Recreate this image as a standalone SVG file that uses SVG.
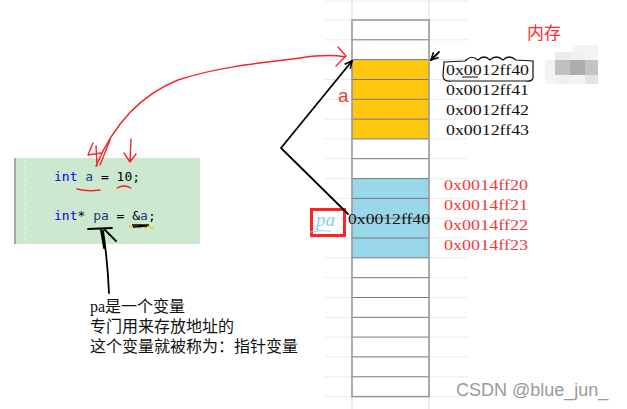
<svg xmlns="http://www.w3.org/2000/svg" width="627" height="409" viewBox="0 0 627 409">
<style>
.grid{stroke:#ececec;stroke-width:1;fill:none}
.cell{stroke:#777;stroke-width:1}
.addr{font-family:"Liberation Serif","DejaVu Serif",serif;font-size:15px}
.blk{fill:#111}
.red{fill:#f03a3a}
.code{font-family:"DejaVu Sans Mono","Liberation Mono",monospace;font-size:13px}
.kw{fill:#0000ff}
.id{fill:#1f377f}
.pen-red{stroke:#f02828;stroke-width:1.4;fill:none;stroke-linecap:round;stroke-linejoin:round}
.pen-blk{stroke:#000;stroke-width:1.8;fill:none;stroke-linecap:round;stroke-linejoin:round}
.note{font-family:"Liberation Serif","Noto Sans CJK SC",serif;font-size:16px;fill:#111}
</style>
<defs>
<marker id="ah" viewBox="0 0 10 10" refX="9" refY="5" markerWidth="5" markerHeight="5" orient="auto-start-reverse">
<path d="M1,1 L9,5 L1,9" fill="none" stroke="#000" stroke-width="1.8"/>
</marker>
</defs>
<rect width="627" height="409" fill="#fff"/>

<!-- faint spreadsheet grid -->
<g id="sheet-grid" class="grid">
<path d="M325,1H468M325,20H468M325,39.8H468M325,59.6H468M325,79.5H468M325,99.3H468M325,119.1H468M325,138.9H468M325,158.7H468M325,178.6H468M325,198.4H468M325,218.2H468M325,238H468M325,257.8H468M325,277.7H468M325,297.5H468M325,317.3H468M325,337.1H468M325,356.9H468M325,376.8H468M325,396.6H468"/>
<path d="M352,0V409M429,0V409" stroke="#dcdcdc"/>
</g>

<!-- memory column -->
<g id="memory">
<rect x="352" y="20" width="77" height="376.6" fill="#fff"/>
<rect x="352" y="59.6" width="77" height="79.3" fill="#fec80f"/>
<rect x="352" y="178.6" width="77" height="79.2" fill="#99d8ea"/>
<path class="cell" d="M352,39.8H429M352,59.6H429M352,79.5H429M352,99.3H429M352,119.1H429M352,138.9H429M352,158.7H429M352,178.6H429M352,198.4H429M352,218.2H429M352,238H429M352,257.8H429M352,277.7H429M352,297.5H429M352,317.3H429M352,337.1H429M352,356.9H429M352,376.8H429"/>
<rect x="352" y="20" width="77" height="376.6" fill="none" stroke="#999" stroke-width="1.6"/>
</g>

<g id="title">
<text x="527" y="39" font-family="Noto Sans CJK SC,sans-serif" font-size="17" fill="#ff2a2a">内存</text>
</g>

<g id="mosaic">
<rect x="572" y="45" width="26" height="8" fill="#f4f4f4"/>
<rect x="555" y="52" width="15" height="8" fill="#ececec"/>
<rect x="570" y="52" width="15" height="8" fill="#f0f0f0"/>
<rect x="585" y="52" width="13" height="8" fill="#f4f4f4"/>
<rect x="545" y="60" width="10" height="15" fill="#f2f2f2"/>
<rect x="555" y="60" width="15" height="15" fill="#c0c0c0"/>
<rect x="570" y="60" width="15" height="15" fill="#adadad"/>
<rect x="585" y="60" width="13" height="15" fill="#c4c4c4"/>
<rect x="545" y="75" width="10" height="9" fill="#f4f4f4"/>
<rect x="555" y="75" width="15" height="9" fill="#f0f0f0"/>
<rect x="570" y="75" width="15" height="9" fill="#f4f4f4"/>
<rect x="585" y="75" width="13" height="9" fill="#e4e4e4"/>
</g>

<!-- address labels of a -->
<g id="addr-a" class="addr blk">
<text x="446" y="75" textLength="83" lengthAdjust="spacingAndGlyphs">0x0012ff40</text>
<text x="446" y="95" textLength="83" lengthAdjust="spacingAndGlyphs">0x0012ff41</text>
<text x="446" y="115" textLength="83" lengthAdjust="spacingAndGlyphs">0x0012ff42</text>
<text x="446" y="135" textLength="83" lengthAdjust="spacingAndGlyphs">0x0012ff43</text>
</g>

<!-- address labels of pa -->
<g id="addr-pa" class="addr red">
<text x="444" y="190" textLength="84" lengthAdjust="spacingAndGlyphs">0x0014ff20</text>
<text x="444" y="210" textLength="84" lengthAdjust="spacingAndGlyphs">0x0014ff21</text>
<text x="444" y="230" textLength="84" lengthAdjust="spacingAndGlyphs">0x0014ff22</text>
<text x="444" y="250" textLength="84" lengthAdjust="spacingAndGlyphs">0x0014ff23</text>
</g>

<g id="pa-value">
<text class="addr blk" x="348" y="224" textLength="82" lengthAdjust="spacingAndGlyphs">0x0012ff40</text>
</g>

<g id="label-a">
<text x="338" y="102" font-family="Liberation Sans,sans-serif" font-size="19" fill="#f03a3a">a</text>
</g>

<g id="label-pa">
<rect x="311.5" y="209.5" width="33" height="26" fill="none" stroke="#ff2222" stroke-width="3"/>
<text x="316" y="226" font-family="Liberation Serif,serif" font-style="italic" font-size="19" fill="#8fd0ea">pa</text>
<path d="M310,232 Q320,230 331,231" stroke="#8fd0ea" stroke-width="1" fill="none"/>
</g>

<!-- code box -->
<g id="code">
<rect x="14" y="158" width="186" height="86" fill="#cce8cf"/>
<path d="M15,158V244" stroke="#a8a8a8" stroke-width="2"/>
<path d="M25,160V244" stroke="#e6f2e6" stroke-width="1" stroke-dasharray="3,3"/>
<text class="code" x="54" y="181"><tspan class="kw">int</tspan> <tspan class="id">a</tspan> = 10;</text>
<text class="code" x="54" y="220"><tspan class="kw">int</tspan>* <tspan class="id">pa</tspan> = &amp;<tspan class="id">a</tspan>;</text>
<path d="M129,227 q2,-2 3,0 t3,0 t3,0 t3,0 t3,0 t3,0 t3,0 t3,0" stroke="#e6c200" stroke-width="1.2" fill="none"/>
<path d="M132,225 L149,225 M133,227 L147,226" stroke="#000" stroke-width="1.3"/>
</g>

<g id="note">
<text class="note" x="90" y="312">pa是一个变量</text>
<text class="note" x="90" y="332">专门用来存放地址的</text>
<text class="note" x="90" y="352">这个变量就被称为：指针变量</text>
</g>

<!-- connectors / pen marks -->
<g id="connectors">
<path class="pen-red" d="M96,166 C112,128 138,96 178,80 C220,66 270,62 300,58 C320,55 335,55 345,57"/>
<path class="pen-red" d="M338,47 L346,56 L336,66"/>
<path class="pen-red" d="M93,143 L88,155 L101,153 M96,146 L97,166 M110,140 L100,165"/>
<path class="pen-red" d="M131,139 L130,162 M124,153 L130,162 L136,154"/>
<path class="pen-red" d="M77,189 Q88,192 100,190 M117,188 Q124,184 131,188"/>
<path class="pen-blk" d="M348,214 L281,148 L352,61" marker-end="url(#ah)"/>
<path class="pen-blk" stroke-width="1.5" d="M439,52 L431,60" marker-end="url(#ah)"/>
<path d="M444,62 L465,61 Q471,54 478,60 Q484,54 490,60 Q496,54 503,60 Q509,54 516,60 L533,61 L533,78 Q532,82 525,81 L452,81 Q443,82 443,76 Z M462,77 H478" fill="none" stroke="#111" stroke-width="1.2"/>
<path class="pen-blk" stroke-width="1.5" d="M109,293 C108,270 106,250 103,231 M88,229 L112,228 M104,229 L116,241 M101,230 L104,248"/>
</g>

<g id="watermark">
<text x="456" y="396" font-family="Liberation Sans,sans-serif" font-size="18" fill="#9a9a9a">CSDN @blue_jun_</text>
</g>
</svg>
